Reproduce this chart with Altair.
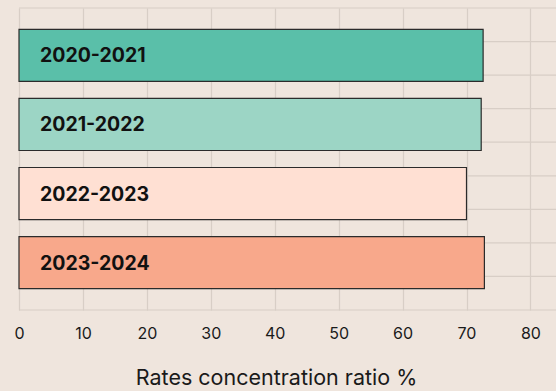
import altair as alt
import pandas as pd

periods = ["2020-2021", "2021-2022", "2022-2023", "2023-2024"]
ratios = [72.6, 72.3, 70.0, 72.8]
bar_colors = ["#5abfa9", "#9cd5c5", "#ffe0d3", "#f8a88b"]
x_ticks = [0, 5, 10, 15, 20, 25, 30, 35, 40, 45, 50, 55, 60, 65, 70, 75, 80, 85]
h_grid = [0, 1, 2, 3, 4, 5, 6, 7, 8, 9]

bg = "#efe5dd"
grid_col = "#d8cec6"
font = "Inter"

df = pd.DataFrame({"period": periods, "ratio": ratios})
grid_df = pd.DataFrame({"g": h_grid})

x_scale = alt.Scale(domain=[0, 84], nice=False, zero=True)
y_scale = alt.Scale(domain=periods, paddingInner=0.246, paddingOuter=0.31)

hgrid = alt.Chart(grid_df).mark_rule(color=grid_col, strokeWidth=1.2).encode(
    y=alt.Y("g:Q", scale=alt.Scale(domain=[0, 9], nice=False), axis=None)
)

bars = alt.Chart(df).mark_bar(stroke="#2b2b2b", strokeWidth=1.2, cornerRadius=0).encode(
    x=alt.X(
        "ratio:Q",
        scale=x_scale,
        axis=alt.Axis(
            values=x_ticks,
            labelExpr="datum.value % 10 == 0 ? datum.label : ''",
            labelFlush=False,
            grid=True,
            gridColor=grid_col,
            gridWidth=1.2,
            ticks=False,
            domain=False,
            labelFont=font,
            labelFontSize=16,
            labelColor="#1a1a1a",
            labelPadding=15,
            title="Rates concentration ratio %",
            titleFont=font,
            titleFontSize=21.5,
            titleFontWeight="normal",
            titleColor="#1a1a1a",
            titlePadding=26,
            titleX=257,
            titleAlign="center",
        ),
    ),
    y=alt.Y("period:N", scale=y_scale, axis=None),
    color=alt.Color("period:N", scale=alt.Scale(domain=periods, range=bar_colors), legend=None),
)

labels = alt.Chart(df).mark_text(
    align="left", baseline="middle", dx=21, dy=1, font=font, fontSize=19.5, fontWeight="bold", color="#111111"
).encode(
    x=alt.datum(0, scale=x_scale),
    y=alt.Y("period:N", scale=y_scale, axis=None),
    text="period:N",
)

chart = (
    alt.layer(hgrid, bars + labels)
    .resolve_scale(y="independent")
    .properties(
        width=537,
        height=302,
        background=bg,
        padding={"left": 19, "top": 8, "right": 0, "bottom": 81},
        autosize=alt.AutoSizeParams(type="none"),
    )
    .configure_view(stroke=None)
)

chart.save("out.html", embed_options={"renderer": "svg", "actions": False})
